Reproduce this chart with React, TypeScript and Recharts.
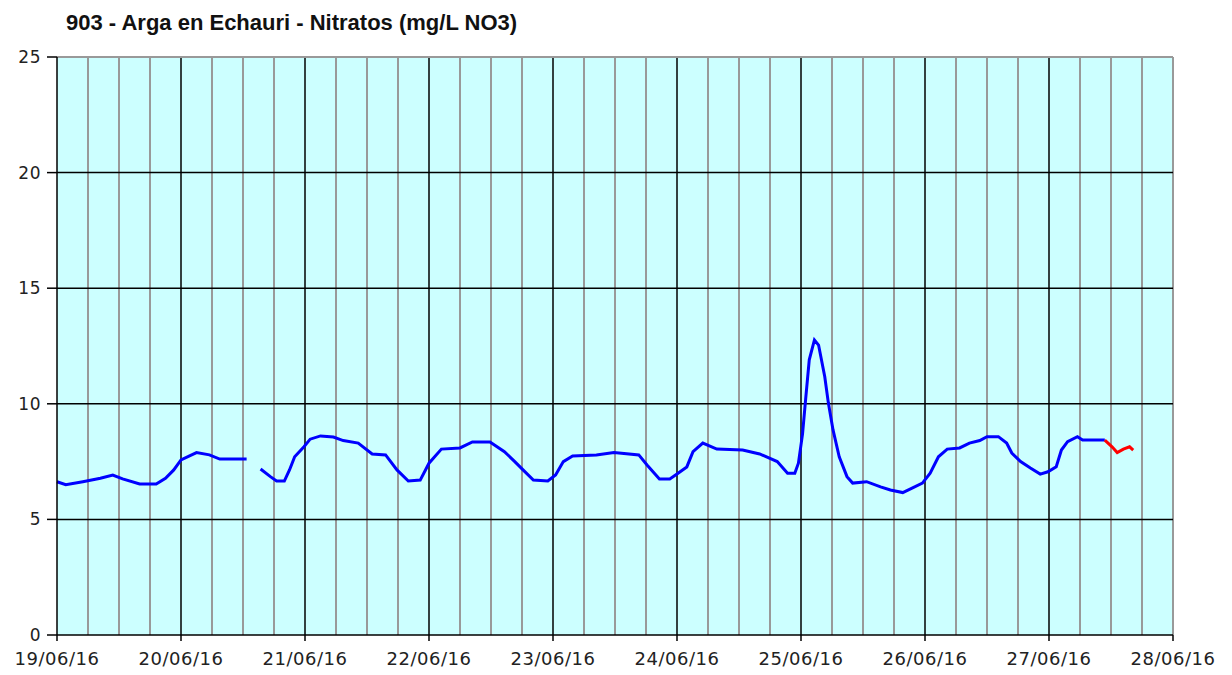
import React from 'react'
import {
  LineChart,
  Line,
  XAxis,
  YAxis,
  ReferenceArea,
  ReferenceLine,
} from 'recharts'

// hours since 19/06/16 00:00 (validated series, blue)
const hours = [
  0, 1.7, 5, 8.4, 10.8, 12.7, 16, 19.2, 21, 22.6, 24, 27, 29.5, 31.5, 36.7,
  38, // gap
  39.4, 41.3, 42.5, 44, 45, 46, 47.8, 49, 51, 53.5, 55.4, 58.3, 61, 63.6, 65.8, 68, 70.3,
  72, 74.4, 78, 80.4, 83.8, 86.6, 88.6, 90.2, 92.2, 95, 96.5, 98, 99.8, 104.4, 107.8,
  112.6, 114.2, 116.6, 118.6, 120, 121.9, 123.1, 125, 127.7, 132.7, 136, 139.4, 141.4,
  142.8, 143.5, 144.3, 144.9, 145.6, 146.6, 147.4, 148.6, 149.3, 150.2, 151.4, 152.9,
  154, 156.7, 159.4, 161.3, 163.7, 165.6, 167.5, 169, 170.6, 172.3, 174.7, 176.6, 178.6,
  180, 182.2, 183.8, 184.8, 186.5, 188.4, 190.3, 191.8, 193.4, 194.4, 195.6, 197.5,
  198.5, 202.8,
]

const nitratos = [
  6.63, 6.5, 6.63, 6.78, 6.92, 6.75, 6.53, 6.53, 6.78, 7.14, 7.57, 7.89, 7.79, 7.61, 7.61,
  null,
  7.18, 6.85, 6.66, 6.66, 7.14, 7.71, 8.14, 8.47, 8.61, 8.56, 8.41, 8.3, 7.83, 7.79, 7.14, 6.66, 6.7,
  7.43, 8.04, 8.09, 8.35, 8.35, 7.93, 7.5, 7.14, 6.7, 6.66, 6.92, 7.5, 7.74, 7.79, 7.89,
  7.79, 7.35, 6.75, 6.75, 6.96, 7.27, 7.93, 8.3, 8.04, 8.0, 7.83, 7.5, 7.0,
  7.0, 7.43, 8.7, 10.2, 11.9, 12.76, 12.54, 11.17, 10.03, 8.87, 7.71, 6.85,
  6.57, 6.63, 6.41, 6.27, 6.16, 6.36, 6.57, 7.0, 7.71, 8.04, 8.09, 8.3, 8.41,
  8.58, 8.58, 8.3, 7.87, 7.5, 7.22, 6.96, 7.06, 7.28, 8.0, 8.36, 8.58,
  8.43, 8.43,
]

// provisional tail (red)
const provHours = [202.8, 204.2, 205.2, 206.4, 207.6, 208.3]
const provNitratos = [8.43, 8.14, 7.89, 8.04, 8.14, 8.0]

const dayLabels = [
  '19/06/16', '20/06/16', '21/06/16', '22/06/16', '23/06/16',
  '24/06/16', '25/06/16', '26/06/16', '27/06/16', '28/06/16',
]
const dayTicks = [0, 24, 48, 72, 96, 120, 144, 168, 192, 216]
const quarterTicks = dayTicks.slice(0, -1).flatMap((d) => [d + 6, d + 12, d + 18])
const yTicks = [0, 5, 10, 15, 20, 25]

const blueData = hours.map((t, i) => ({ t, v: nitratos[i] }))
const redData = provHours.map((t, i) => ({ t, v: provNitratos[i] }))

const xTickStyle = { fontSize: 18, fill: '#222', fontFamily: 'DejaVu Sans', letterSpacing: 0.5 }
const yTickStyle = { fontSize: 17, fill: '#222', fontFamily: 'DejaVu Sans', letterSpacing: 0.5 }

export default function App() {
  return (
    <div style={{ position: 'relative', width: 1232, height: 675, margin: -8, background: '#fff' }}>
      <div
        style={{
          position: 'absolute',
          left: 66,
          top: 10,
          fontFamily: 'Liberation Sans, Arial, sans-serif',
          fontWeight: 'bold',
          fontSize: 22,
          lineHeight: 'normal',
          color: '#111',
          whiteSpace: 'nowrap',
        }}
      >
        903 - Arga en Echauri - Nitratos (mg/L NO3)
      </div>
      <LineChart
        width={1232}
        height={675}
        margin={{ top: 57, right: 59, left: 7, bottom: 10 }}
        style={{ position: 'absolute', left: 0, top: 0 }}
      >
        <ReferenceArea x1={0} x2={216} y1={0} y2={25} fill="#CCFFFF" fillOpacity={1} stroke="none" ifOverflow="visible" />
        {quarterTicks.map((h) => (
          <ReferenceLine key={'q' + h} x={h} stroke="#999" strokeWidth={2} />
        ))}
        {dayTicks.slice(1, -1).map((h) => (
          <ReferenceLine key={'d' + h} x={h} stroke="#000" strokeWidth={1.5} />
        ))}
        <ReferenceLine x={216} stroke="#999" strokeWidth={2} />
        {yTicks.slice(1, -1).map((v) => (
          <ReferenceLine key={'y' + v} y={v} stroke="#000" strokeWidth={1.5} />
        ))}
        <ReferenceLine y={25} stroke="#999" strokeWidth={2} />
        <XAxis
          dataKey="t"
          type="number"
          domain={[0, 216]}
          ticks={dayTicks}
          tickFormatter={(v: number) => dayLabels[dayTicks.indexOf(v)] ?? ''}
          tick={xTickStyle}
          tickSize={6}
          tickMargin={11}
          axisLine={{ stroke: '#000', strokeWidth: 1.5 }}
          tickLine={{ stroke: '#000', strokeWidth: 1.5 }}
          height={30}
          interval={0}
          allowDuplicatedCategory={false}
        />
        <YAxis
          type="number"
          domain={[0, 25]}
          ticks={yTicks}
          tick={yTickStyle}
          tickSize={10}
          tickMargin={6}
          axisLine={{ stroke: '#000', strokeWidth: 1.5 }}
          tickLine={{ stroke: '#000', strokeWidth: 1.5 }}
          width={50}
          interval={0}
        />
        <Line
          data={blueData}
          type="linear"
          dataKey="v"
          stroke="#0000FF"
          strokeWidth={3}
          dot={false}
          connectNulls={false}
          isAnimationActive={false}
        />
        <Line
          data={redData}
          type="linear"
          dataKey="v"
          stroke="#FF0000"
          strokeWidth={3}
          dot={false}
          isAnimationActive={false}
        />
      </LineChart>
    </div>
  )
}
